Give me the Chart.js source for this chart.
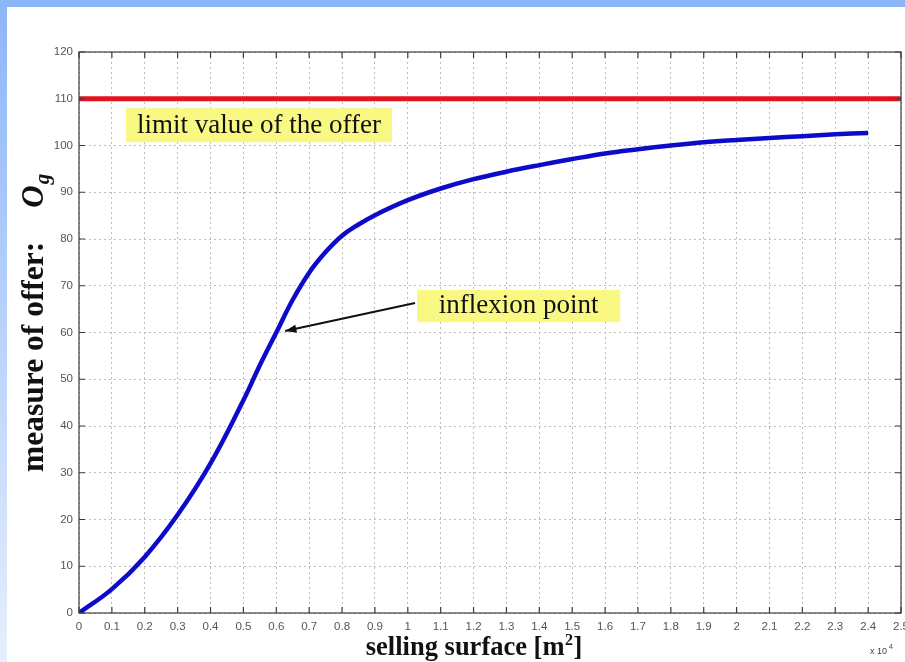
<!DOCTYPE html>
<html>
<head>
<meta charset="utf-8">
<title>measure of offer</title>
<script src="https://cdn.jsdelivr.net/npm/chart.js@4.4.1/dist/chart.umd.min.js"></script>
<style>
  html, body { margin: 0; padding: 0; overflow: hidden; background: #fff; }
  #top { position: absolute; left: 0; top: 0; width: 905px; height: 7px; background: #8cb6f9; }
  #side { position: absolute; left: 0; top: 0; width: 7px; height: 662px; background: linear-gradient(#8cb6f9, #e6effd); }
  canvas { position: absolute; left: 0; top: 0; }
</style>
</head>
<body>
<div id="top"></div>
<div id="side"></div>
<canvas id="myChart" width="905" height="662"></canvas>
<script>
'use strict';

// selling surface in units of 10^4 m2
let surface = [0, 0.1, 0.2, 0.3, 0.4, 0.5, 0.55, 0.6, 0.65, 0.7, 0.75, 0.8, 0.85, 0.9, 1.0, 1.1, 1.2,
  1.3, 1.4, 1.5, 1.6, 1.7, 1.8, 1.9, 2.0, 2.1, 2.2, 2.3, 2.4];
let offer = [0, 5.1, 12.0, 21.0, 32.0, 45.5, 53.0, 60.0, 67.0, 72.8, 77.2, 80.7, 83.1, 85.1, 88.3, 90.8, 92.8,
  94.4, 95.8, 97.1, 98.3, 99.2, 100.0, 100.7, 101.2, 101.6, 102.0, 102.4, 102.7];

let limitSurface = [0, 2.5];
let limitOffer = [110, 110];

let xTicks = [0, 0.1, 0.2, 0.3, 0.4, 0.5, 0.6, 0.7, 0.8, 0.9, 1, 1.1, 1.2, 1.3,
  1.4, 1.5, 1.6, 1.7, 1.8, 1.9, 2, 2.1, 2.2, 2.3, 2.4, 2.5];
let yTicks = [0, 10, 20, 30, 40, 50, 60, 70, 80, 90, 100, 110, 120];

// text boxes, in data units
let notes = [
  {text: 'limit value of the offer', x0: 0.143, x1: 0.952, y0: 100.7, y1: 108},
  {text: 'inflexion point', x0: 1.028, x1: 1.646, y0: 62.2, y1: 69.1}
];
let arrowFrom = [1.022, 66.3];
let arrowTo = [0.627, 60.3];

const serif = '"Liberation Serif", "Times New Roman", serif';

let frame = {
  id: 'frame',
  afterDraw(chart) {
    let ctx = chart.ctx;
    let a = chart.chartArea;
    let x = chart.scales.x;
    let y = chart.scales.y;
    ctx.save();

    // matlab style box with inward ticks
    ctx.strokeStyle = '#3c3c3c';
    ctx.lineWidth = 1.2;
    ctx.strokeRect(a.left, a.top, a.right - a.left, a.bottom - a.top);
    ctx.beginPath();
    xTicks.forEach(v => {
      let p = x.getPixelForValue(v);
      ctx.moveTo(p, a.bottom); ctx.lineTo(p, a.bottom - 6);
      ctx.moveTo(p, a.top); ctx.lineTo(p, a.top + 6);
    });
    yTicks.forEach(v => {
      let p = y.getPixelForValue(v);
      ctx.moveTo(a.left, p); ctx.lineTo(a.left + 6, p);
      ctx.moveTo(a.right, p); ctx.lineTo(a.right - 6, p);
    });
    ctx.stroke();

    // yellow labels
    ctx.font = '27px ' + serif;
    ctx.textAlign = 'center';
    ctx.textBaseline = 'alphabetic';
    notes.forEach(n => {
      let l = x.getPixelForValue(n.x0), r = x.getPixelForValue(n.x1);
      let t = y.getPixelForValue(n.y1), b = y.getPixelForValue(n.y0);
      ctx.fillStyle = '#f8f882';
      ctx.fillRect(l, t, r - l, b - t);
      ctx.fillStyle = '#111';
      ctx.fillText(n.text, (l + r) / 2, b - 9);
    });

    // arrow to the inflexion point
    let fx = x.getPixelForValue(arrowFrom[0]), fy = y.getPixelForValue(arrowFrom[1]);
    let tx = x.getPixelForValue(arrowTo[0]), ty = y.getPixelForValue(arrowTo[1]);
    let ang = Math.atan2(ty - fy, tx - fx);
    ctx.strokeStyle = '#111';
    ctx.lineWidth = 2;
    ctx.beginPath();
    ctx.moveTo(fx, fy); ctx.lineTo(tx, ty);
    ctx.stroke();
    ctx.beginPath();
    ctx.moveTo(tx, ty);
    ctx.lineTo(tx - 12 * Math.cos(ang - 0.35), ty - 12 * Math.sin(ang - 0.35));
    ctx.lineTo(tx - 12 * Math.cos(ang + 0.35), ty - 12 * Math.sin(ang + 0.35));
    ctx.closePath();
    ctx.fillStyle = '#111';
    ctx.fill();

    // x axis title
    ctx.fillStyle = '#111';
    ctx.textAlign = 'left';
    let t1 = 'selling surface [m', t2 = '2', t3 = ']';
    ctx.font = 'bold 26.5px ' + serif;
    let w1 = ctx.measureText(t1).width, w3 = ctx.measureText(t3).width;
    ctx.font = 'bold 16px ' + serif;
    let w2 = ctx.measureText(t2).width;
    let cx = x.getPixelForValue(1.2) - (w1 + w2 + w3) / 2;
    let base = a.bottom + 42;
    ctx.font = 'bold 26.5px ' + serif;
    ctx.fillText(t1, cx, base);
    ctx.fillText(t3, cx + w1 + w2 + 1, base);
    ctx.font = 'bold 16px ' + serif;
    ctx.fillText(t2, cx + w1 + 0.5, base - 10);

    // x 10^4
    ctx.font = '9px "Liberation Sans", Arial, sans-serif';
    ctx.fillStyle = '#444';
    ctx.fillText('x 10', a.right - 31, a.bottom + 41);
    ctx.font = '7px "Liberation Sans", Arial, sans-serif';
    ctx.fillText('4', a.right - 12, a.bottom + 36);

    // y axis title, rotated
    ctx.translate(43, 472);
    ctx.rotate(-Math.PI / 2);
    ctx.fillStyle = '#111';
    ctx.font = 'bold 31.5px ' + serif;
    let ym = 'measure of offer:';
    ctx.fillText(ym, 0, 0);
    let wy = ctx.measureText(ym).width + 34;
    ctx.font = 'italic bold 31px ' + serif;
    ctx.fillText('O', wy, 0);
    let wo = ctx.measureText('O').width;
    ctx.font = 'italic bold 21px ' + serif;
    ctx.fillText('g', wy + wo + 1, 6);

    ctx.restore();
  }
};

let tickFont = {family: '"Liberation Sans", Arial, sans-serif', size: 11.5};

let ctx = document.getElementById('myChart').getContext('2d');
let chartJs = {
  type: 'line',
  data: {
    datasets: [{
      label: 'limit value of the offer',
      data: limitSurface.map((s, i) => ({x: s, y: limitOffer[i]})),
      borderColor: '#e0121e',
      borderWidth: 5,
      pointRadius: 0
    },
    {
      label: 'measure of offer',
      data: surface.map((s, i) => ({x: s, y: offer[i]})),
      borderColor: '#0c0cc8',
      borderWidth: 4.5,
      pointRadius: 0,
      tension: 0.4
    }]
  },
  options: {
    responsive: false,
    animation: false,
    events: [],
    layout: {padding: {left: 0, right: 4, top: 52, bottom: 0}},
    plugins: {
      legend: {display: false},
      tooltip: {enabled: false}
    },
    scales: {
      x: {
        type: 'linear',
        min: 0,
        max: 2.5,
        afterBuildTicks: scale => { scale.ticks = xTicks.map(v => ({value: v})); },
        afterFit: scale => { scale.height = 49; scale.paddingLeft = 0; scale.paddingRight = 0; },
        ticks: {
          autoSkip: false,
          maxRotation: 0,
          padding: 7,
          color: '#555',
          font: tickFont,
          callback: v => String(Number(v.toFixed(1)))
        },
        grid: {color: '#bdbdbd', lineWidth: 1, drawTicks: false},
        border: {display: false, dash: [2, 3]}
      },
      y: {
        type: 'linear',
        min: 0,
        max: 120,
        afterBuildTicks: scale => { scale.ticks = yTicks.map(v => ({value: v})); },
        afterFit: scale => { scale.width = 79; scale.paddingTop = 0; scale.paddingBottom = 0; },
        ticks: {
          autoSkip: false,
          padding: 6,
          color: '#555',
          font: tickFont
        },
        grid: {color: '#bdbdbd', lineWidth: 1, drawTicks: false},
        border: {display: false, dash: [2, 3]}
      }
    }
  },
  plugins: [frame]
};
new Chart(ctx, chartJs);
</script>
</body>
</html>
